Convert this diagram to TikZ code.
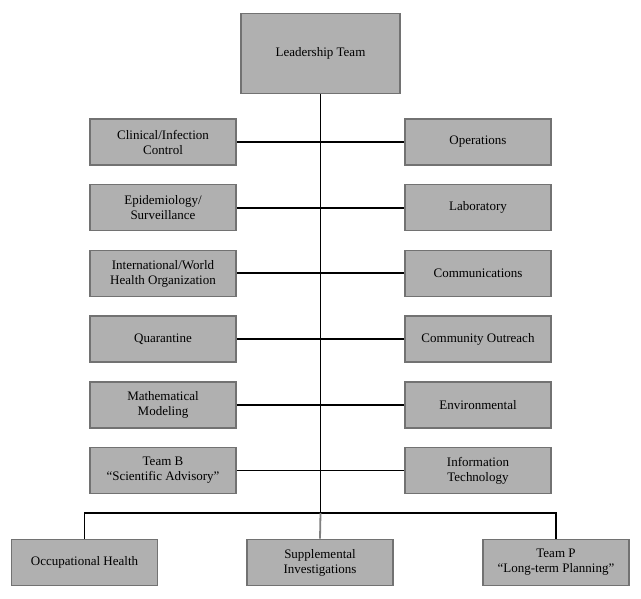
\documentclass[tikz,border=0pt]{standalone}
\usepackage{fontspec}
\setmainfont{Liberation Serif}
\usepackage{tikz}
\usetikzlibrary{positioning,calc}

\definecolor{boxfill}{HTML}{B0B0B0}
\definecolor{boxline}{HTML}{727272}

\begin{document}
\begin{tikzpicture}[x=1pt,y=-1pt,
    team/.style={draw=boxline,fill=boxfill,line width=1.6pt,minimum width=146pt,minimum height=46pt,
        align=center,inner sep=2pt,font=\fontsize{13}{15}\selectfont},
    link/.style={line width=1.8pt,black}]
    \useasboundingbox (0,0) rectangle (641,599);
    \node[team,minimum width=159pt,minimum height=80pt] (lead) at (320.5,53.5) {Leadership Team};
    % side teams
    \foreach \n/\y/\lt/\rt in {1/142/{Clinical/Infection\\Control}/{Operations},
                               2/207.7/{Epidemiology/\\Surveillance}/{Laboratory},
                               3/273.4/{International/World\\Health Organization}/{Communications},
                               4/339.1/{Quarantine}/{Community Outreach},
                               5/404.8/{Mathematical\\Modeling}/{Environmental},
                               6/470.5/{Team B\\``Scientific Advisory''}/{Information\\Technology}} {
        \node[team] (l\n) at (163,\y) {\lt};
        \node[team] (r\n) at (478,\y) {\rt};
        \draw[link] (l\n.east) -- (r\n.west);
    }
    \coordinate (bus) at (320.5,513);
    \draw[link] (lead.south) -- (bus);
    % bottom teams
    \node[team] (b1) at (84.5,562.5) {Occupational Health};
    \node[team] (b2) at (320,562.5) {Supplemental\\Investigations};
    \node[team] (b3) at (556,562.5) {Team P\\``Long-term Planning''};
    \draw[link] (b1.north) |- (bus) -| (b3.north);
    \draw[line width=1.8pt,gray] (bus) -- (b2.north);
\end{tikzpicture}
\end{document}
